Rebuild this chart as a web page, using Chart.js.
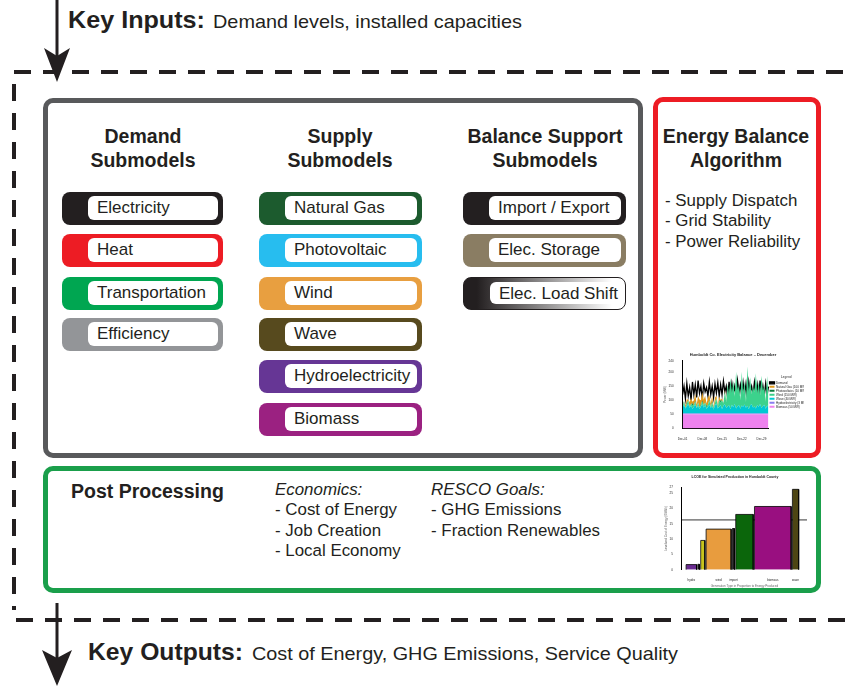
<!DOCTYPE html>
<html>
<head>
<meta charset="utf-8">
<script src="https://cdn.jsdelivr.net/npm/chart.js@4.4.1/dist/chart.umd.min.js"></script>
<style>
body{margin:0;background:#fff;font-family:"Liberation Sans",Arial,Helvetica,sans-serif;color:#231f20}
#page{position:relative;width:846px;height:686px;overflow:hidden}
.box{position:absolute;box-sizing:border-box;border-width:5px;border-style:solid;border-radius:10px}
.head{position:absolute;font-weight:bold;font-size:19.5px;line-height:24px;text-align:center;width:200px}
.pill{position:absolute;height:33px;border-radius:8px;box-sizing:border-box}
.pill .in{position:absolute;left:26px;top:4px;right:5px;bottom:5px;background:#fff;border-radius:6px;font-size:17px;line-height:24px;padding-left:9px;white-space:nowrap}
.txt{position:absolute;font-size:16.9px;line-height:20.4px;white-space:nowrap}
.key{position:absolute;white-space:nowrap;line-height:1;transform-origin:0 0;display:inline-block}
canvas{position:absolute}
</style>
</head>
<body>
<div id="page">
<svg width="846" height="686" style="position:absolute;left:0;top:0">
  <g stroke="#231f20" stroke-width="4" stroke-dasharray="17 12" fill="none">
    <line x1="14" y1="72" x2="846" y2="72"/>
    <line x1="14" y1="84" x2="14" y2="610"/>
    <line x1="16" y1="620" x2="846" y2="620"/>
  </g>
  <g stroke="#231f20" stroke-width="3">
    <line x1="57" y1="0" x2="57" y2="56"/>
    <line x1="57" y1="603" x2="57" y2="662"/>
  </g>
  <polygon points="57,82 44,48 57,56 70,48" fill="#231f20"/>
  <polygon points="57,686 42,650 57,658 72,650" fill="#231f20"/>
</svg>

<span class="key" data-w="137" style="left:68px;top:7.5px;font-size:24px;font-weight:bold">Key Inputs:</span>
<span class="key" data-w="309" style="left:213px;top:12px;font-size:19px">Demand levels, installed capacities</span>
<span class="key" data-w="155" style="left:88px;top:639.5px;font-size:24px;font-weight:bold">Key Outputs:</span>
<span class="key" data-w="426" style="left:252px;top:644px;font-size:19px">Cost of Energy, GHG Emissions, Service Quality</span>

<div class="box" style="left:43px;top:98px;width:600px;height:360px;border-color:#58595b"></div>
<div class="box" style="left:653px;top:97px;width:168px;height:361px;border-color:#ed1c24"></div>
<div class="box" style="left:43px;top:466px;width:778px;height:127px;border-color:#1a9f4b"></div>

<div class="head" style="left:43px;top:124px">Demand<br>Submodels</div>
<div class="head" style="left:240px;top:124px">Supply<br>Submodels</div>
<div class="head" style="left:445px;top:124px">Balance Support<br>Submodels</div>
<div class="head" style="left:636px;top:124px">Energy Balance<br>Algorithm</div>
<div class="txt" style="left:665px;top:191px">- Supply Dispatch<br>- Grid Stability<br>- Power Reliability</div>

<div class="head" style="left:71px;top:479px;width:auto;text-align:left">Post Processing</div>
<div class="txt" style="left:275px;top:480px"><i>Economics:</i><br>- Cost of Energy<br>- Job Creation<br>- Local Economy</div>
<div class="txt" style="left:431px;top:480px"><i>RESCO Goals:</i><br>- GHG Emissions<br>- Fraction Renewables</div>

<div id="pills"></div>
<canvas id="bal" width="150" height="102" style="left:660px;top:342px"></canvas>
<canvas id="lcoe" width="148" height="120" style="left:661px;top:471px"></canvas>
</div>

<script>
// --- submodel boxes ---
var pillTops = [192, 234, 277, 318, 360, 403]
var demandNames = ['Electricity', 'Heat', 'Transportation', 'Efficiency']
var demandColors = ['#231f20', '#ed1c24', '#00a651', '#939598']
var supplyNames = ['Natural Gas', 'Photovoltaic', 'Wind', 'Wave', 'Hydroelectricity', 'Biomass']
var supplyColors = ['#1c5b2e', '#27bdef', '#e89f40', '#574a1e', '#663695', '#9b2181']
var balanceNames = ['Import / Export', 'Elec. Storage', 'Elec. Load Shift']
var balanceColors = ['#231f20', '#8a7d63', 'linear-gradient(to right,#231f20 8%,#ffffff 92%)']

function addPills(names, colors, left, width) {
    var holder = document.getElementById('pills')
    names.forEach((n, i) => {
        var p = document.createElement('div')
        p.className = 'pill'
        p.style.left = left + 'px'
        p.style.top = pillTops[i] + 'px'
        p.style.width = width + 'px'
        p.style.background = colors[i]
        if (colors[i].indexOf('gradient') >= 0) p.style.border = '1px solid #231f20'
        var inner = document.createElement('div')
        inner.className = 'in'
        inner.textContent = n
        p.appendChild(inner)
        holder.appendChild(p)
    })
}
addPills(demandNames, demandColors, 62, 161)
addPills(supplyNames, supplyColors, 259, 163)
addPills(balanceNames, balanceColors, 463, 163)

// squeeze the key input/output lines to the condensed width of the original
document.querySelectorAll('.key').forEach(el => {
    var w = el.getBoundingClientRect().width
    el.style.transform = 'scaleX(' + (Number(el.dataset.w) / w) + ')'
})

// --- mini chart 1: December electricity balance (MW, two samples per day) ---
var balLabels = []
for (var d = 1; d <= 31; d++) {
    var dd = 'Dec-' + (d < 10 ? '0' + d : d)
    balLabels.push(dd, dd + ' 12h')
}
var balTickDays = ['Dec-01', 'Dec-08', 'Dec-15', 'Dec-22', 'Dec-29']

var biomassMW = [50,50,50,50,50,50,50,50,50,50,50,50,50,50,50,50,50,50,50,50,50,50,50,50,50,50,50,50,50,50,50,
                 50,50,50,50,50,50,50,50,50,50,50,50,50,50,50,50,50,50,50,50,50,50,50,50,50,50,50,50,50,50,50]
var hydroMW = [3,3,3,3,3,3,3,3,3,3,3,3,3,3,3,3,3,3,3,3,3,3,3,3,3,3,3,3,3,3,3,
               3,3,3,3,3,3,3,3,3,3,3,3,3,3,3,3,3,3,3,3,3,3,3,3,3,3,3,3,3,3,3]
var waveMW = [22,30,18,26,34,20,28,16,24,32,19,27,15,25,33,21,29,17,23,31,20,26,14,28,35,18,24,30,16,27,33,
              19,25,29,15,31,22,34,18,26,30,17,28,24,32,20,27,15,29,33,21,25,18,30,23,34,19,26,31,17,28,22]
var windMW = [4,10,2,8,12,3,6,14,5,9,2,11,7,3,13,6,10,4,8,15,3,12,6,9,18,5,22,10,30,8,
              45,20,80,35,110,40,95,25,130,55,70,30,120,45,85,20,140,60,100,35,75,50,125,40,90,30,115,55,65,25,105,45]
var pvMW = [0,4,0,5,0,3,0,6,0,4,0,2,0,5,0,3,0,6,0,4,0,5,0,2,0,4,0,6,0,3,0,
            5,0,4,0,6,0,3,0,5,0,4,0,2,0,6,0,4,0,5,0,3,0,6,0,4,0,5,0,3,0,4]
var gasMW = [5,0,8,12,3,15,20,6,18,25,10,22,28,14,30,19,24,8,26,16,12,20,4,18,10,6,14,2,8,0,5,
             3,0,2,0,0,0,0,0,0,0,0,0,0,0,0,0,0,0,0,0,0,0,0,0,0,0,0,0,0,0,0]
var demandMW = [120,150,105,160,115,145,100,165,120,155,110,170,125,150,105,160,130,145,115,165,120,150,110,158,125,162,115,155,120,168,130,
                150,110,165,118,160,125,150,112,170,128,155,115,162,120,158,110,166,130,150,118,164,122,156,112,170,126,152,116,160,120,148]

var tiny = { size: 3, family: 'Liberation Sans' }
new Chart(document.getElementById('bal'), {
    type: 'line',
    data: {
        labels: balLabels,
        datasets: [
            { label: 'Biomass (50 MW)', data: biomassMW, backgroundColor: '#ee82ee', borderColor: '#ee82ee', fill: 'origin' },
            { label: 'Hydroelectricity (3 MW)', data: hydroMW, backgroundColor: '#8a7cf0', borderColor: '#8a7cf0', fill: '-1' },
            { label: 'Wave (40 MW)', data: waveMW, backgroundColor: '#00c8d2', borderColor: '#00c8d2', fill: '-1' },
            { label: 'Wind (150 MW)', data: windMW, backgroundColor: '#3cd28c', borderColor: '#3cd28c', fill: '-1' },
            { label: 'Photovoltaics (10 MW)', data: pvMW, backgroundColor: '#0b7a3b', borderColor: '#0b7a3b', fill: '-1' },
            { label: 'Natural Gas (100 MW)', data: gasMW, backgroundColor: '#e09a1e', borderColor: '#e09a1e', fill: '-1' },
            { label: 'Demand', data: demandMW, borderColor: '#000', backgroundColor: '#000', borderWidth: 1.3, fill: false, stack: 'demand' }
        ]
    },
    options: {
        responsive: false, animation: false, devicePixelRatio: 1,
        elements: { point: { radius: 0 }, line: { tension: 0, borderWidth: 0 } },
        layout: { padding: { left: 2, right: 6, top: 0, bottom: 2 } },
        plugins: {
            title: { display: true, text: 'Humboldt Co. Electricity Balance – December', font: { size: 4, weight: 'bold' }, color: '#222', padding: { top: 10, bottom: 4 } },
            legend: {
                position: 'right', reverse: true,
                title: { display: true, text: 'Legend', font: { size: 3, weight: 'bold' }, padding: 1 },
                labels: { font: tiny, boxWidth: 5, boxHeight: 2, padding: 1, color: '#222' }
            },
            tooltip: { enabled: false }
        },
        scales: {
            x: {
                grid: { display: false }, border: { color: '#000', width: 1 },
                ticks: {
                    font: tiny, color: '#222', autoSkip: false, maxRotation: 0, padding: 1,
                    callback: (v, i) => balTickDays.indexOf(balLabels[i]) >= 0 ? balLabels[i] : ''
                }
            },
            y: {
                stacked: true, min: 0, max: 240,
                grid: { display: false }, border: { color: '#000', width: 1 },
                title: { display: true, text: 'Power (MW)', font: tiny, padding: 1 },
                ticks: { font: tiny, color: '#222', stepSize: 50, padding: 1 }
            }
        }
    }
})

// --- mini chart 2: LCOE bars, width in proportion to energy produced ---
var lcoeTypes = ['hydro', '', 'solar', 'wind', 'import', 'natural gas', 'biomass', 'wave']
var lcoeShare = [25, 4, 10, 60, 5, 42, 88, 15]
var lcoeCost = [1.7, 1.8, 9.6, 13.3, 13.5, 18.1, 20.7, 26.3]
var lcoeColors = ['#6a2c91', '#231f20', '#c8c41e', '#e89c3e', '#231f20', '#0b660b', '#990f80', '#4d4513']
var lcoeShown = ['hydro', 'wind', 'import', 'biomass', 'wave']
var lcoeAverage = 16.3

var cursor = 10
var centers = []
var lcoeSets = lcoeTypes.map((t, i) => {
    var x0 = cursor, x1 = cursor + lcoeShare[i]
    cursor = x1 + 3
    if (lcoeShown.indexOf(t) >= 0) centers.push((x0 + x1) / 2)
    return {
        label: t,
        data: [{ x: x0, y: 0 }, { x: x0, y: lcoeCost[i] }, { x: x1, y: lcoeCost[i] }, { x: x1, y: 0 }],
        showLine: true, fill: 'origin', backgroundColor: lcoeColors[i], borderColor: '#000', borderWidth: 0.8, pointRadius: 0
    }
})
lcoeSets.push({
    label: 'average', data: [{ x: 0, y: lcoeAverage }, { x: 300, y: lcoeAverage }],
    showLine: true, fill: false, borderColor: '#000', borderWidth: 0.8, pointRadius: 0
})

new Chart(document.getElementById('lcoe'), {
    type: 'scatter',
    data: { datasets: lcoeSets },
    options: {
        responsive: false, animation: false, devicePixelRatio: 1,
        layout: { padding: { left: 2, right: 2, top: 0, bottom: 2 } },
        plugins: {
            legend: { display: false }, tooltip: { enabled: false },
            title: { display: true, text: 'LCOE for Simulated Production in Humboldt County', font: { size: 3.5, weight: 'bold' }, color: '#222', padding: { top: 4, bottom: 8 } }
        },
        scales: {
            x: {
                type: 'linear', min: 0, max: 300,
                grid: { display: false }, border: { display: false },
                afterBuildTicks: s => { s.ticks = centers.map(v => ({ value: v })) },
                ticks: { font: tiny, color: '#222', maxRotation: 0, autoSkip: false, padding: 1, callback: (v, i) => lcoeShown[i] },
                title: { display: true, text: 'Generation Type in Proportion to Energy Produced', font: tiny, padding: 1 }
            },
            y: {
                min: 0, max: 27,
                grid: { display: false }, border: { color: '#000', width: 1 },
                ticks: { font: tiny, color: '#222', stepSize: 5, padding: 1 },
                title: { display: true, text: 'Levelized Cost of Energy (¢/kWh)', font: tiny, padding: 1 }
            }
        }
    }
})
</script>
</body>
</html>
